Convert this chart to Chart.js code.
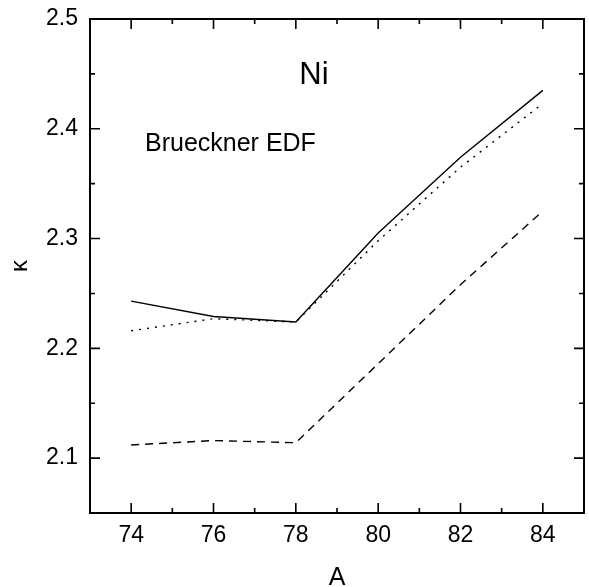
<!DOCTYPE html>
<html>
<head>
<meta charset="utf-8">
<script src="https://cdn.jsdelivr.net/npm/chart.js@4.4.1/dist/chart.umd.min.js"></script>
<style>
html,body{margin:0;padding:0;background:#fff;}
#wrap{width:589px;height:587px;}
</style>
</head>
<body>
<div id="wrap"><canvas id="c" width="589" height="587"></canvas></div>
<script>
// ---- data ----
const massNumbers = [74, 76, 78, 80, 82, 84];
const kappaSolid  = [2.243, 2.229, 2.224, 2.305, 2.374, 2.435];
const kappaDotted = [2.216, 2.227, 2.224, 2.298, 2.365, 2.423];
const kappaDashed = [2.112, 2.116, 2.114, 2.186, 2.258, 2.325];
const xTickLabels = [74, 76, 78, 80, 82, 84];
const yTickLabels = [2.1, 2.2, 2.3, 2.4, 2.5];
const xMinorTicks = [73, 75, 77, 79, 81, 83, 85];
const yMinorTicks = [2.05, 2.15, 2.25, 2.35, 2.45];

const FONT = "'Liberation Sans', Arial, Helvetica, sans-serif";

function pts(ys){ return massNumbers.map((x,i)=>({x:x, y:ys[i]})); }

const boxTicks = {
  id:'boxTicks',
  afterDatasetsDraw(chart){
    const {ctx, chartArea:a, scales:{x, y}} = chart;
    ctx.save();
    ctx.strokeStyle = '#000';
    ctx.lineWidth = 2;
    ctx.strokeRect(a.left, a.top, a.right - a.left, a.bottom - a.top);
    const major = 10, minor = 5;
    ctx.lineWidth = 1.6;
    ctx.beginPath();
    const xt = (v, len) => {
      const px = x.getPixelForValue(v);
      ctx.moveTo(px, a.bottom); ctx.lineTo(px, a.bottom - len);
      ctx.moveTo(px, a.top); ctx.lineTo(px, a.top + len);
    };
    const yt = (v, len) => {
      const py = y.getPixelForValue(v);
      ctx.moveTo(a.left, py); ctx.lineTo(a.left + len, py);
      ctx.moveTo(a.right, py); ctx.lineTo(a.right - len, py);
    };
    xTickLabels.forEach(v => xt(v, major));
    xMinorTicks.forEach(v => xt(v, minor));
    yTickLabels.forEach(v => yt(v, major));
    yMinorTicks.forEach(v => yt(v, minor));
    ctx.stroke();
    // annotations
    ctx.fillStyle = '#000';
    ctx.textBaseline = 'middle';
    ctx.textAlign = 'center';
    ctx.font = "31px " + FONT;
    ctx.fillText('Ni', 314, 75);
    ctx.textAlign = 'left';
    ctx.font = "25px " + FONT;
    ctx.fillText('Brueckner EDF', 145, 144);
    ctx.restore();
  }
};

new Chart(document.getElementById('c'), {
  type: 'line',
  data: {
    datasets: [
      {data: pts(kappaSolid),  borderColor:'#000', borderWidth:1.4, pointRadius:0, fill:false, tension:0},
      {data: pts(kappaDotted), borderColor:'#000', borderWidth:1.4, borderDash:[2,6], pointRadius:0, fill:false, tension:0},
      {data: pts(kappaDashed), borderColor:'#000', borderWidth:1.4, borderDash:[8,6], pointRadius:0, fill:false, tension:0}
    ]
  },
  options: {
    responsive: false,
    devicePixelRatio: 1,
    animation: false,
    layout: {padding: {left:0, right:5, top:19, bottom:0}},
    plugins: {legend:{display:false}, tooltip:{enabled:false}},
    scales: {
      x: {
        type: 'linear', min: 73, max: 85,
        afterFit(s){ s.height = 74; s.paddingLeft = 0; s.paddingRight = 0; },
        grid: {display:false, drawTicks:false},
        border: {display:false},
        ticks: {
          stepSize: 1, padding: 9, color:'#000', maxRotation:0, autoSkip:false,
          font: {family: FONT, size: 23},
          callback: v => xTickLabels.includes(v) ? String(v) : ''
        },
        title: {display:true, text:'A', color:'#000', font:{family:FONT, size:25, lineHeight:0.75}, padding:{top:0,bottom:0}}
      },
      y: {
        min: 2.05, max: 2.5,
        afterFit(s){ s.width = 90; s.paddingTop = 0; s.paddingBottom = 0; },
        grid: {display:false, drawTicks:false},
        border: {display:false},
        ticks: {
          stepSize: 0.05, padding: 12, color:'#000', autoSkip:false,
          font: {family: FONT, size: 23},
          callback: v => {
            const r = Math.round(v*100)/100;
            return yTickLabels.some(t => Math.abs(t - r) < 1e-6) ? r.toFixed(1) : '';
          }
        },
        title: {display:true, text:'κ', color:'#000', font:{family:FONT, size:24, lineHeight:1}, padding:{top:8,bottom:0}}
      }
    }
  },
  plugins: [boxTicks]
});
</script>
</body>
</html>
